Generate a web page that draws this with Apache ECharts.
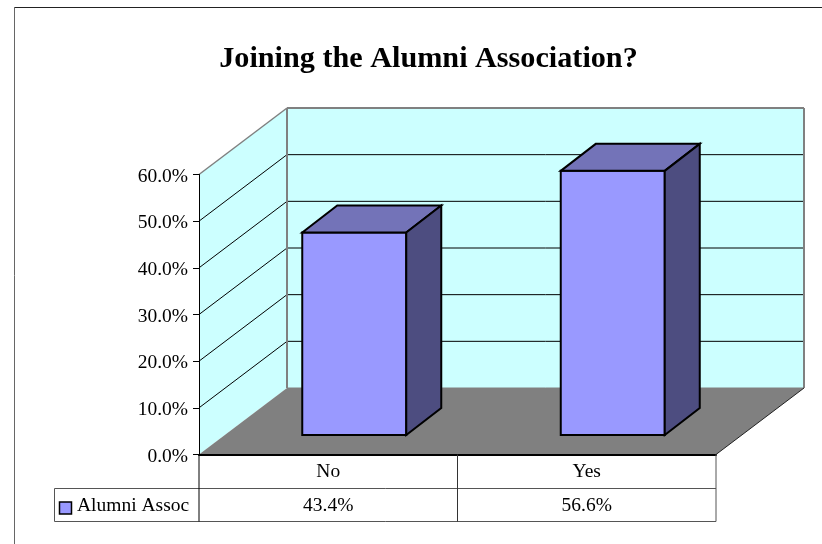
<!DOCTYPE html>
<html><head><meta charset="utf-8">
<style>html,body{margin:0;padding:0;background:#fff}#c{width:822px;height:544px}</style>
<script src="https://cdn.jsdelivr.net/npm/echarts@6/dist/echarts.min.js"></script>
</head><body><div id="c"></div>
<script>
const titleText = 'Joining the Alumni Association?';
const categories = ['No', 'Yes'];
const seriesName = 'Alumni Assoc';
const values = [43.4, 56.6];
const yTicks = [0, 10, 20, 30, 40, 50, 60];

const FONT = '"Liberation Serif","Times New Roman",serif';
const FS = 19.5;
const DX = 88, DY = -66.5;
const pct = v => v.toFixed(1) + '%';
const chart = echarts.init(document.getElementById('c'), null, {renderer: 'canvas'});

function poly(points, fill, stroke, lw) {
  return {type: 'polygon', shape: {points}, style: {fill, stroke: stroke || 'none', lineWidth: lw || 0, lineJoin: 'miter'}};
}
function seg(x1, y1, x2, y2, stroke, lw) {
  return {type: 'line', shape: {x1, y1, x2, y2}, style: {stroke, lineWidth: lw || 1}};
}
function txt(x, y, text, align) {
  return {type: 'text', style: {x, y, text, align: align || 'center', verticalAlign: 'middle', font: FS + 'px ' + FONT, fill: '#000'}};
}

chart.setOption({
  animation: false,
  backgroundColor: '#fff',
  title: {text: titleText, left: 423.5, top: 39, textAlign: 'center',
    textStyle: {fontFamily: FONT, fontWeight: 'bold', fontSize: 30.2, color: '#000'}},
  grid: {left: 199, top: 174.5, width: 517, height: 280},
  xAxis: {type: 'category', data: categories, z: 5,
    axisLine: {show: true, lineStyle: {color: '#000', width: 2}},
    axisTick: {show: false}, splitLine: {show: false},
    axisLabel: {color: '#000', fontFamily: FONT, fontSize: FS, margin: 7}},
  yAxis: {type: 'value', min: 0, max: 60, interval: 10, z: 5,
    axisLine: {show: true, lineStyle: {color: '#000', width: 1}},
    axisTick: {show: true, length: 6, lineStyle: {color: '#000'}}, splitLine: {show: false},
    axisLabel: {color: '#000', fontFamily: FONT, fontSize: FS, margin: 11, verticalAlign: 'top', lineHeight: 4, formatter: v => pct(v)}},
  graphic: [
    {type: 'line', shape: {x1: 14, y1: 7.5, x2: 822, y2: 7.5}, style: {stroke: '#222', lineWidth: 1}},
    {type: 'line', shape: {x1: 14.5, y1: 7, x2: 14.5, y2: 544}, style: {stroke: '#666', lineWidth: 1}}
  ],
  series: [
    { // walls and floor
      type: 'custom', coordinateSystem: 'cartesian2d', silent: true, clip: false, z: 1,
      data: [[0, 0]],
      renderItem(params, api) {
        const g = params.coordSys, L = g.x, R = g.x + g.width, T = g.y, B = g.y + g.height;
        return {type: 'group', children: [
          poly([[L, T], [L + DX, T + DY], [L + DX, B + DY], [L, B]], '#CCFFFF'),
          poly([[L + DX, T + DY], [R + DX, T + DY], [R + DX, B + DY], [L + DX, B + DY]], '#CCFFFF'),
          poly([[L, B], [L + DX, B + DY], [R + DX, B + DY], [R, B]], '#808080')
        ]};
      }
    },
    { // gridlines on the walls
      type: 'custom', coordinateSystem: 'cartesian2d', silent: true, clip: false, z: 2,
      data: yTicks.slice(1, -1).map(v => [0, v]),
      renderItem(params, api) {
        const g = params.coordSys, L = g.x, R = g.x + g.width;
        const y = api.coord([0, api.value(1)])[1];
        return {type: 'group', children: [
          seg(L, y, L + DX, y + DY, '#000', 1),
          seg(L + DX, y + DY, R + DX, y + DY, '#000', 1)
        ]};
      }
    },
    { // gray wall outlines and floor edge
      type: 'custom', coordinateSystem: 'cartesian2d', silent: true, clip: false, z: 3,
      data: [[0, 0]],
      renderItem(params, api) {
        const g = params.coordSys, L = g.x, R = g.x + g.width, T = g.y, B = g.y + g.height;
        return {type: 'group', children: [
          seg(L, T, L + DX, T + DY, '#808080', 1.5),
          seg(L + DX, T + DY, R + DX, T + DY, '#808080', 2),
          seg(L + DX, T + DY, L + DX, B + DY, '#808080', 2),
          seg(R + DX, T + DY, R + DX, B + DY, '#808080', 2),
          seg(L + DX, B + DY, R + DX, B + DY, '#808080', 1),
          seg(R, B, R + DX, B + DY, '#222', 1)
        ]};
      }
    },
    { // 3-D bars
      type: 'custom', name: seriesName, coordinateSystem: 'cartesian2d', clip: false, z: 4,
      data: values.map((v, i) => [i, v]),
      encode: {x: 0, y: 1},
      renderItem(params, api) {
        const top = api.coord([api.value(0), api.value(1)]);
        const base = api.coord([api.value(0), 0]);
        const w = 104, ox = 26, oy = -19.5, dx = 35, dy = -27;
        const x0 = top[0] + ox - w / 2, x1 = x0 + w, yT = top[1] + oy, yB = base[1] + oy;
        const k = '#000', lw = 2;
        return {type: 'group', children: [
          poly([[x0, yT], [x1, yT], [x1, yB], [x0, yB]], '#9999FF', k, lw),
          poly([[x0, yT], [x0 + dx, yT + dy], [x1 + dx, yT + dy], [x1, yT]], '#7373B8', k, lw),
          poly([[x1, yT], [x1 + dx, yT + dy], [x1 + dx, yB + dy], [x1, yB]], '#4D4D80', k, lw)
        ]};
      }
    },
    { // data table
      type: 'custom', coordinateSystem: 'cartesian2d', silent: true, clip: false, z: 6,
      data: [[0, 0]],
      renderItem(params, api) {
        const g = params.coordSys, L = g.x, R = g.x + g.width, B = g.y + g.height;
        const mid = B + 34, bot = B + 67, left = 54.5;
        const ty = (mid + bot) / 2 + 1;
        const kids = [
          seg(left, mid, R, mid, '#555', 1),
          seg(left, bot, R, bot, '#555', 1),
          seg(left, mid, left, bot, '#555', 1),
          seg(L, B, L, bot, '#000', 1),
          seg((L + R) / 2, B, (L + R) / 2, bot, '#333', 1),
          seg(R, B, R, bot, '#555', 1),
          {type: 'rect', shape: {x: 59.5, y: 502, width: 12, height: 12}, style: {fill: '#9999FF', stroke: '#000', lineWidth: 1.5}},
          txt(77, ty, seriesName, 'left')
        ];
        values.forEach((v, i) => kids.push(txt(api.coord([i, 0])[0], ty, pct(v))));
        return {type: 'group', children: kids};
      }
    }
  ]
});
</script></body></html>
